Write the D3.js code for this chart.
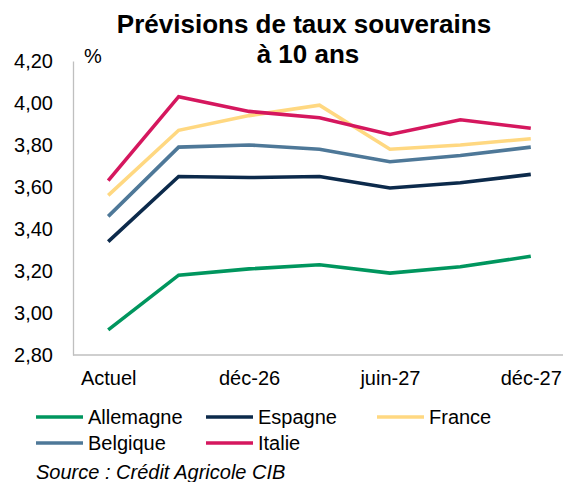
<!DOCTYPE html>
<html>
<head>
<meta charset="utf-8">
<script src="https://cdn.jsdelivr.net/npm/d3@7"></script>
<style>
  html, body { margin: 0; padding: 0; background: #fff; }
  svg { display: block; font-family: "Liberation Sans", Arial, sans-serif; }
</style>
</head>
<body>
<svg id="chart" width="563" height="482"></svg>
<script>
// Forecast horizons (only every other one is labelled on the axis)
const periods = ["Actuel", "sept-26", "déc-26", "mars-27", "juin-27", "sept-27", "déc-27"];
const shownTicks = ["Actuel", "déc-26", "juin-27", "déc-27"];

// 10-year sovereign yields, %
const allemagne = [2.92, 3.18, 3.21, 3.23, 3.19, 3.22, 3.27];
const espagne   = [3.34, 3.65, 3.645, 3.65, 3.595, 3.62, 3.66];
const france    = [3.56, 3.87, 3.94, 3.99, 3.78, 3.80, 3.83];
const belgique  = [3.46, 3.79, 3.80, 3.78, 3.72, 3.75, 3.79];
const italie    = [3.63, 4.03, 3.96, 3.93, 3.85, 3.92, 3.88];

const yTicks = [2.8, 3.0, 3.2, 3.4, 3.6, 3.8, 4.0, 4.2];

const series = [
  { name: "Allemagne", values: allemagne, color: "#00965e" },
  { name: "Espagne",   values: espagne,   color: "#0c2a4b" },
  { name: "France",    values: france,    color: "#ffd881" },
  { name: "Belgique",  values: belgique,  color: "#4e7898" },
  { name: "Italie",    values: italie,    color: "#d5175e" }
];

const svg = d3.select("#chart");
const plotLeft = 73, plotRight = 566, plotTop = 61, plotBottom = 355;
const fontSize = 20;

const x = d3.scalePoint().domain(periods).range([plotLeft, plotRight]).padding(0.5);
const y = d3.scaleLinear().domain([2.8, 4.2]).range([plotBottom, plotTop]);

// Title
const title = svg.append("text")
  .attr("text-anchor", "middle")
  .attr("font-weight", "bold")
  .attr("font-size", 26)
  .attr("fill", "#000");
title.append("tspan").attr("x", 304).attr("y", 33).text("Prévisions de taux souverains");
title.append("tspan").attr("x", 308).attr("y", 63).text("à 10 ans");

// Unit
svg.append("text").attr("x", 84).attr("y", 63)
  .attr("font-size", fontSize).attr("fill", "#000").text("%");

// Y axis
const yAxis = svg.append("g")
  .attr("transform", `translate(${plotLeft},0)`)
  .call(d3.axisLeft(y).tickValues(yTicks).tickSize(0).tickPadding(20)
    .tickFormat(d => d3.format(".2f")(d).replace(".", ",")));
yAxis.select(".domain").attr("stroke", "#bfbfbf").attr("stroke-width", 1.3);
yAxis.selectAll("text").attr("font-size", fontSize).attr("fill", "#000")
  .attr("font-family", "Liberation Sans, Arial, sans-serif");

// X axis
const xAxis = svg.append("g")
  .attr("transform", `translate(0,${plotBottom})`)
  .call(d3.axisBottom(x).tickValues(shownTicks).tickSize(0).tickPadding(16));
xAxis.select(".domain").attr("d", `M${plotLeft},0H${plotRight}`)
  .attr("stroke", "#bfbfbf").attr("stroke-width", 1.3);
xAxis.selectAll("text").attr("font-size", fontSize).attr("fill", "#000")
  .attr("font-family", "Liberation Sans, Arial, sans-serif");

// Lines
const line = d3.line().x((d, i) => x(periods[i])).y(d => y(d));
svg.append("g").selectAll("path")
  .data(series)
  .join("path")
  .attr("d", d => line(d.values))
  .attr("fill", "none")
  .attr("stroke", d => d.color)
  .attr("stroke-width", 3.6)
  .attr("stroke-linejoin", "miter");

// Legend
const legendPos = [
  { x: 36, y: 417 }, { x: 206, y: 417 }, { x: 377, y: 417 },
  { x: 36, y: 443 }, { x: 206, y: 443 }
];
const legend = svg.append("g").selectAll("g")
  .data(series)
  .join("g")
  .attr("transform", (d, i) => `translate(${legendPos[i].x},${legendPos[i].y})`);
legend.append("line")
  .attr("x1", 0).attr("x2", 47).attr("y1", 0).attr("y2", 0)
  .attr("stroke", d => d.color).attr("stroke-width", 3.6);
legend.append("text")
  .attr("x", 52).attr("y", 7)
  .attr("font-size", fontSize).attr("fill", "#000")
  .text(d => d.name);

// Source
svg.append("text").attr("x", 36).attr("y", 479)
  .attr("font-size", fontSize).attr("font-style", "italic").attr("fill", "#000")
  .text("Source : Crédit Agricole CIB");
</script>
</body>
</html>
